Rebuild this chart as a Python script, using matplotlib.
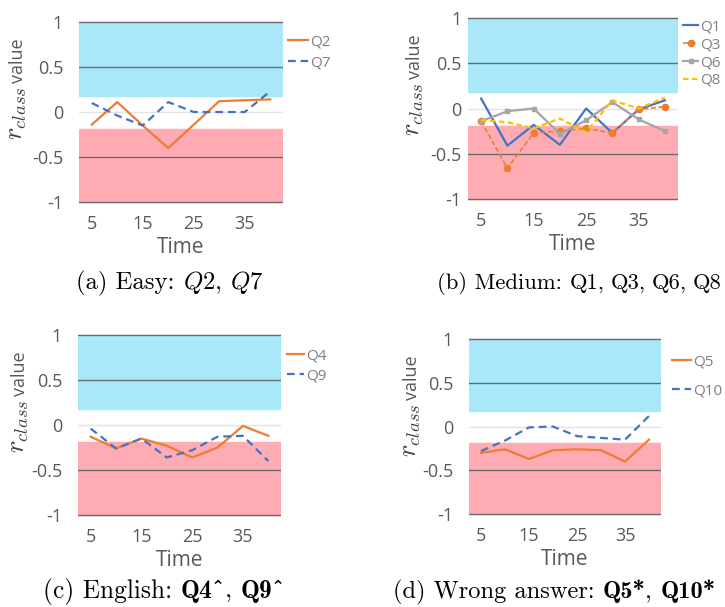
import matplotlib
matplotlib.use('Agg')
import matplotlib.pyplot as plt

plt.rcParams['mathtext.fontset'] = 'cm'
plt.rcParams['font.family'] = ['Open Sans', 'DejaVu Sans']

time = [5, 10, 15, 20, 25, 30, 35, 40]
tick_labels = ['5', '15', '25', '35']

# (a) easy
q2 = [-0.14, 0.11, -0.15, -0.40, -0.14, 0.12, 0.13, 0.14]
q7 = [0.10, -0.04, -0.15, 0.11, 0.00, 0.00, 0.00, 0.23]
# (b) medium
q1 = [0.11, -0.41, -0.18, -0.40, 0.00, -0.27, -0.01, 0.09]
q3 = [-0.14, -0.66, -0.27, -0.25, -0.22, -0.27, -0.01, 0.02]
q6 = [-0.14, -0.03, 0.00, -0.28, -0.13, 0.07, -0.12, -0.25]
q8 = [-0.13, -0.15, -0.22, -0.11, -0.26, 0.09, 0.00, 0.12]
# (c) english
q4 = [-0.13, -0.26, -0.15, -0.23, -0.36, -0.25, -0.01, -0.12]
q9 = [-0.04, -0.26, -0.15, -0.36, -0.28, -0.13, -0.12, -0.40]
# (d) wrong answer
q5 = [-0.30, -0.26, -0.37, -0.27, -0.26, -0.27, -0.40, -0.15]
q10 = [-0.28, -0.16, -0.01, 0.00, -0.11, -0.13, -0.15, 0.12]

orange = '#ED7D31'
blue = '#4472C4'
gray = '#A5A5A5'
yellow = '#FFC000'
txt_gray = '#595959'

fig = plt.figure(figsize=(7.25, 6.07), dpi=100)
W, H = 725, 607


def fx(px):
    return px / W


def fy(px):
    return 1 - px / H


def make_axes(left, right, top, bottom, ypad=11.5, label_off=55):
    ax = fig.add_axes([fx(left), fy(bottom), (right - left) / W, (bottom - top) / H])
    ax.set_xlim(2.5, 42.5)
    ax.set_ylim(-1.02, 1.02)
    ax.axhspan(0.18, 1.0, color='#A8E8F8', zorder=0)
    ax.axhspan(-1.0, -0.19, color='#FFABB3', zorder=0)
    for y in [1, 0.5, -0.5, -1]:
        ax.axhline(y, color='#6b6b6b', lw=1.0, zorder=1)
    ax.axhline(0, color='#e3e3e3', lw=1.0, zorder=1)
    for s in ax.spines.values():
        s.set_visible(False)
    ax.set_xticks([5, 15, 25, 35])
    ax.set_xticklabels(tick_labels)
    ax.set_yticks([-1, -0.5, 0, 0.5, 1])
    ax.set_yticklabels(['-1', '-0.5', '0', '0.5', '1'])
    ax.tick_params(length=0, labelsize=13, colors=txt_gray)
    ax.tick_params(axis='x', pad=8)
    ax.tick_params(axis='y', pad=ypad)
    ax.set_xlabel('Time', fontsize=15, color=txt_gray, labelpad=2.5)
    # y label: big math r_class and smaller "value"
    xb = fx(left - label_off)
    split = fy(top + 66)
    fig.text(xb, split, r'$r_{class}$', fontsize=19, color='#404040', rotation=90,
             rotation_mode='anchor', ha='right', va='baseline')
    fig.text(xb, split + 3 / H, 'value', fontsize=13, color=txt_gray, rotation=90,
             rotation_mode='anchor', ha='left', va='baseline')
    return ax


def add_legend(ax, x, y_first, pitch, hl):
    fs_px = 11 * 100 / 72
    spacing = (pitch - fs_px * 1.17) / fs_px
    leg = ax.legend(loc='upper left', bbox_to_anchor=(fx(x), fy(y_first - 8.5)),
                    bbox_transform=fig.transFigure, frameon=False,
                    fontsize=11, handlelength=hl, handletextpad=0.12,
                    labelspacing=spacing, borderaxespad=0, borderpad=0)
    for t in leg.get_texts():
        t.set_color('#808080')


ax = make_axes(79, 283, 20, 204, label_off=56)
ax.plot(time, q2, color=orange, lw=1.6, label='Q2')
ax.plot(time, q7, color=blue, lw=1.6, ls=(0, (3.5, 2.2)), label='Q7')
add_legend(ax, 288, 43, 24, 1.3)

ax = make_axes(468, 678, 16, 201, ypad=4.5, label_off=48)
ax.plot(time, q1, color=blue, lw=1.6, label='Q1')
ax.plot(time, q3, color=orange, lw=1.2, ls=(0, (3, 1.5)), marker='o', ms=4.5, label='Q3')
ax.plot(time, q6, color=gray, lw=1.6, marker='s', ms=3.5, label='Q6')
ax.plot(time, q8, color=yellow, lw=1.6, ls=(0, (2.5, 1.5)), label='Q8')
add_legend(ax, 683, 28, 20.7, 1.0)

ax = make_axes(78, 281, 333, 517, label_off=53)
ax.plot(time, q4, color=orange, lw=1.6, label='Q4')
ax.plot(time, q9, color=blue, lw=1.6, ls=(0, (3.5, 2.2)), label='Q9')
add_legend(ax, 287, 357, 23, 1.1)

ax = make_axes(469, 661, 337, 516, label_off=52)
ax.plot(time, q5, color=orange, lw=1.6, label='Q5')
ax.plot(time, q10, color=blue, lw=1.6, ls=(0, (3.5, 2.2)), label='Q10')
add_legend(ax, 672, 363, 32, 1.25)

# captions laid out piece by piece (roman / italic / bold)
renderer = fig.canvas.get_renderer()


def caption(x_px, base_px, fs, pieces):
    space = fs * 100 / 72 * 0.333
    x = x_px
    for s, fam, gap in pieces:
        t = fig.text(fx(x), fy(base_px), s, family=fam, fontsize=fs,
                     ha='left', va='baseline')
        bb = t.get_window_extent(renderer=renderer)
        x += bb.width + gap * space


caption(76, 289, 17.8, [('(a) Easy:', 'cmr10', 1), (r'$\mathit{Q2}$', 'cmr10', 0),
                        (',', 'cmr10', 1), (r'$\mathit{Q7}$', 'cmr10', 0)])
caption(437, 289, 16.3, [('(b) Medium:', 'cmr10', 1), ('Q1,', 'cmr10', 0.8),
                         ('Q3,', 'cmr10', 0.8), ('Q6,', 'cmr10', 0.8), ('Q8', 'cmr10', 0)])
caption(43, 598, 18.3, [('(c) English:', 'cmr10', 1), ('Q4^', 'cmb10', 0),
                        (',', 'cmr10', 1), ('Q9^', 'cmb10', 0)])
caption(393, 598, 17.6, [('(d) Wrong answer:', 'cmr10', 1), ('Q5*', 'cmb10', 0),
                         (',', 'cmr10', 1), ('Q10*', 'cmb10', 0)])

fig.savefig('out.png', dpi=100)
